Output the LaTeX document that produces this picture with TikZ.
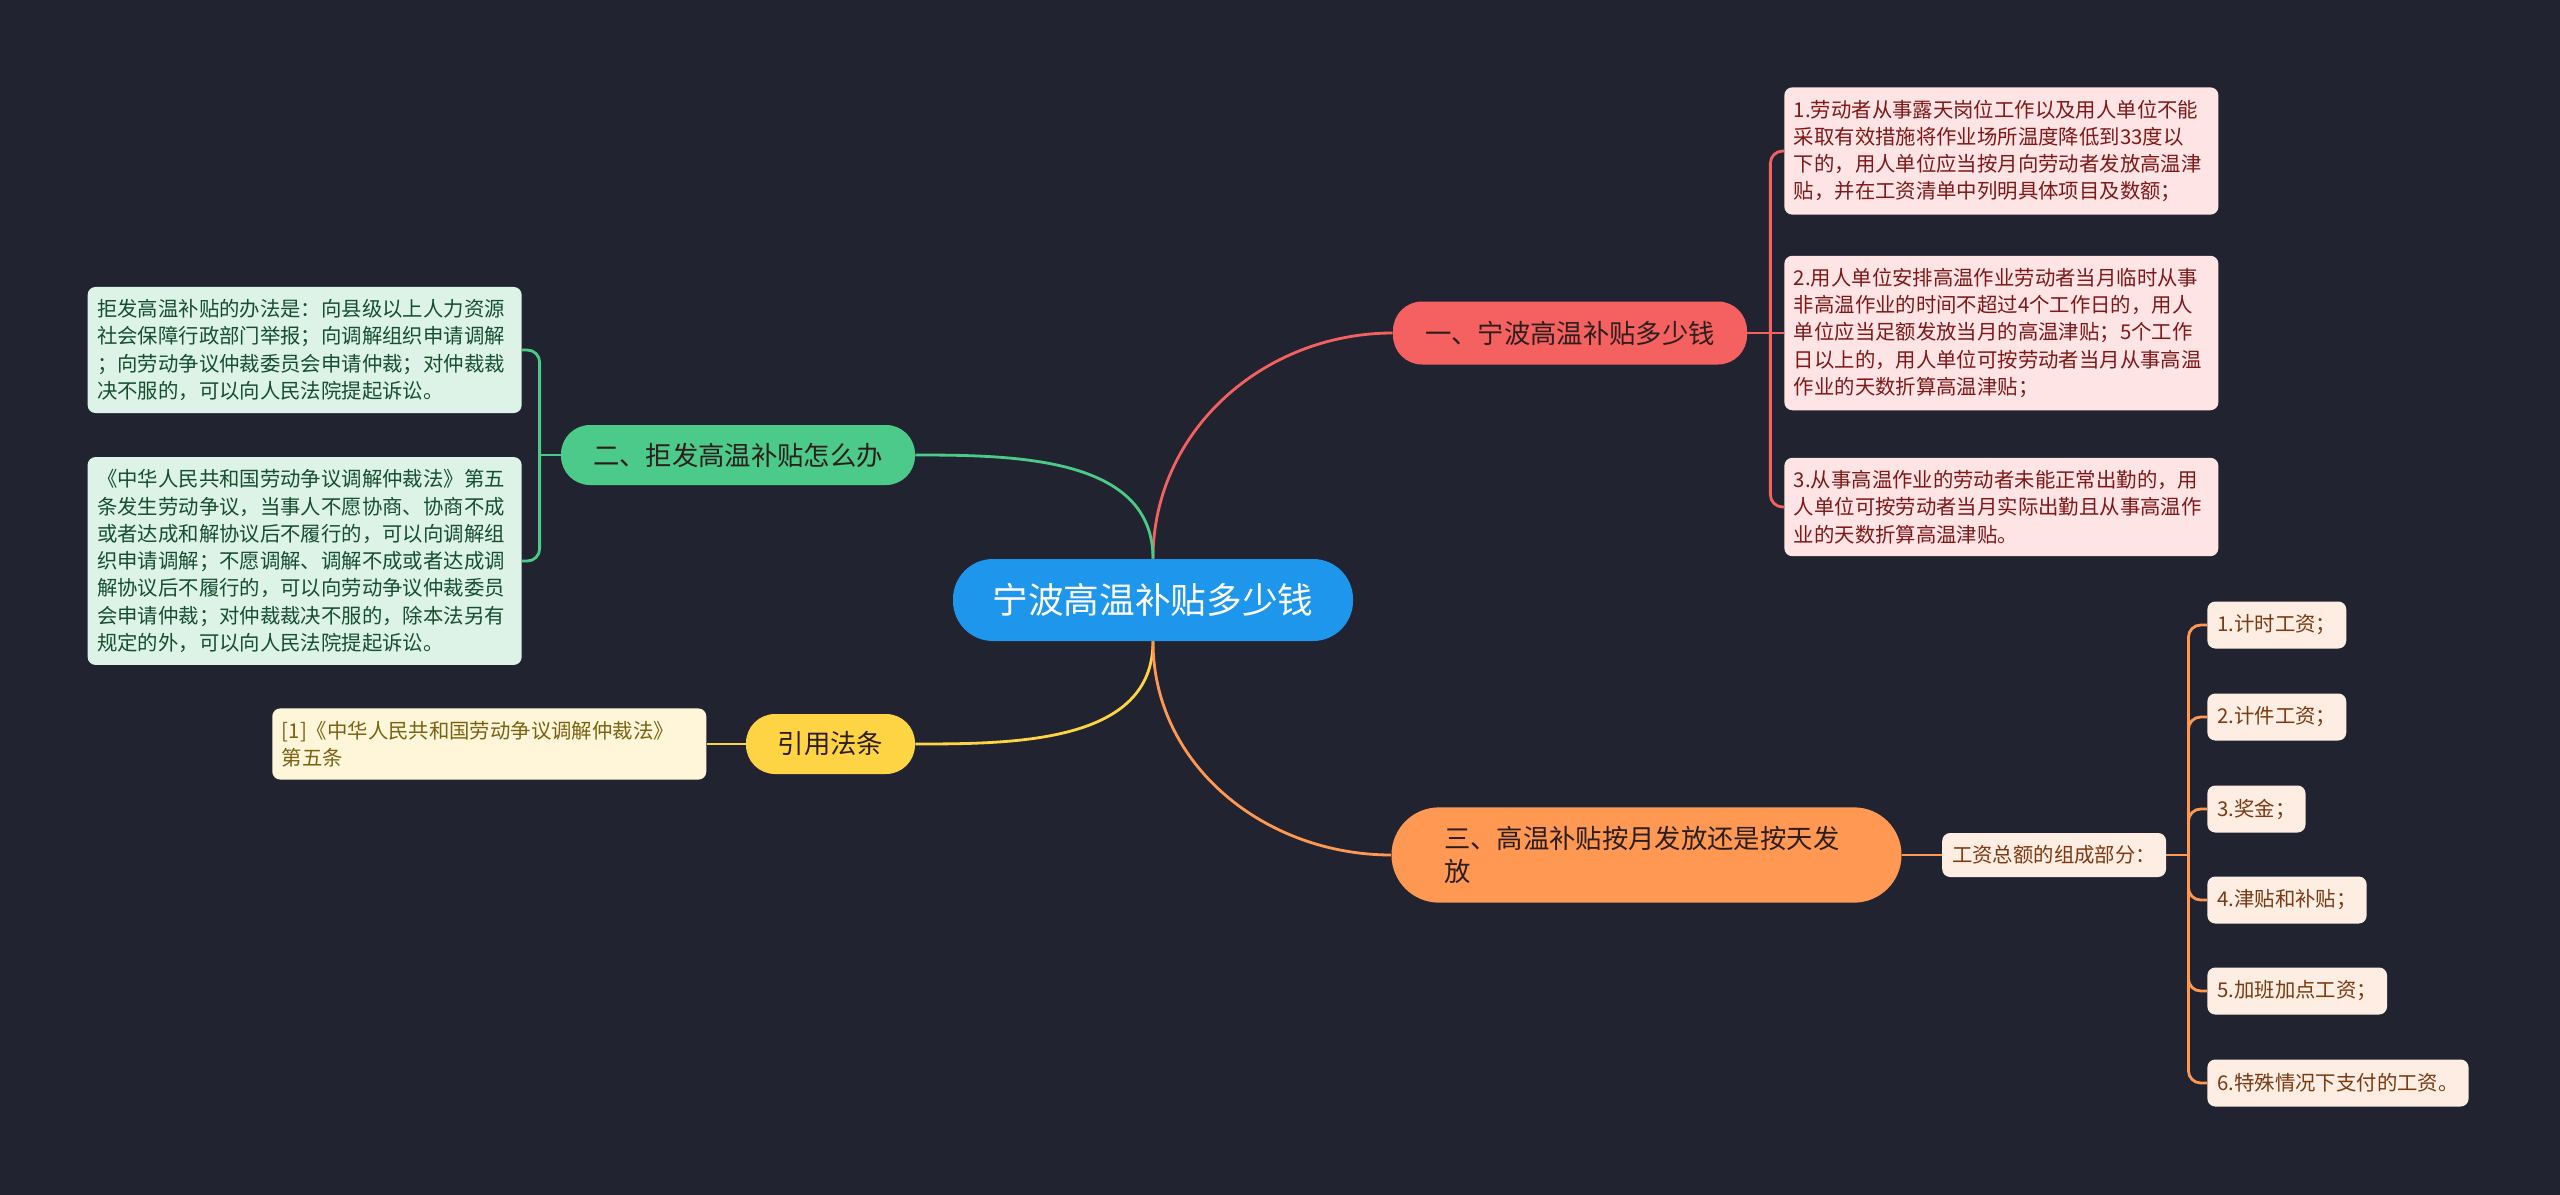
\documentclass[tikz,border=0pt]{standalone}
\usepackage{fontspec}
\setmainfont{Noto Sans CJK SC}
\usepackage{xcolor}
\definecolor{bgnavy}{RGB}{33,36,48}
\definecolor{rootblue}{RGB}{30,150,235}
\definecolor{redmain}{RGB}{245,96,96}
\definecolor{redleaf}{RGB}{254,228,228}
\definecolor{redink}{RGB}{125,25,25}
\definecolor{greenmain}{RGB}{76,202,138}
\definecolor{greenleaf}{RGB}{221,243,232}
\definecolor{greenink}{RGB}{22,78,48}
\definecolor{yellowmain}{RGB}{255,212,68}
\definecolor{yellowleaf}{RGB}{255,246,218}
\definecolor{yellowink}{RGB}{122,98,18}
\definecolor{orangemain}{RGB}{255,152,82}
\definecolor{orangeleaf}{RGB}{254,237,226}
\definecolor{orangeink}{RGB}{122,58,18}
\definecolor{branchink}{RGB}{45,30,30}
\usepackage{tikz}
\usetikzlibrary{positioning}
\newcommand{\leaffont}{\fontsize{11.6}{15.5}\selectfont}
\newcommand{\branchfont}{\fontsize{15}{18.7}\selectfont}
\newcommand{\rootfont}{\fontsize{20.3}{24}\selectfont}

\begin{document}
\begin{tikzpicture}[
    rootnode/.style={fill=rootblue, text=white, font=\rootfont,
      rounded corners=0.8cm, minimum width=8cm, minimum height=1.64cm},
    branchnode/.style={text=branchink, font=\branchfont, inner xsep=0pt,
      rounded corners=0.58cm, minimum height=1.2cm},
    leafnode/.style={rounded corners=4.5pt, text width=8.3cm, align=left,
      inner xsep=0.19cm, inner ysep=0.25cm, font=\leaffont},
    smallleaf/.style={rounded corners=4.5pt, inner xsep=0.2cm,
      minimum height=0.94cm, font=\leaffont, fill=orangeleaf,
      text=orangeink, anchor=west},
    link/.style={line width=1.6pt}]
  \fill[bgnavy] (0,0) rectangle (51.2,-23.9);

  % centre and main branches
  \node[rootnode] (root) at (23.06,-12.0) {宁波高温补贴多少钱};
  \node[branchnode, fill=redmain, minimum width=7.08cm, minimum height=1.26cm]
    (one) at (31.4,-6.66) {一、宁波高温补贴多少钱};
  \node[branchnode, fill=greenmain, minimum width=7.08cm]
    (two) at (14.76,-9.1) {二、拒发高温补贴怎么办};
  \node[branchnode, fill=yellowmain, minimum width=3.38cm]
    (cite) at (16.61,-14.88) {引用法条};
  \node[branchnode, fill=orangemain, text width=8.1cm, align=left,
        inner xsep=1.05cm, inner ysep=0.38cm, rounded corners=0.95cm]
    (three) at (32.93,-17.1) {三、高温补贴按月发放还是按天发\\放};

  % red leaves
  \node[leafnode, fill=redleaf, text=redink, anchor=west] (r1) at (35.68,-3.02)
    {1.劳动者从事露天岗位工作以及用人单位不能\\
     采取有效措施将作业场所温度降低到33度以\\
     下的，用人单位应当按月向劳动者发放高温津\\
     贴，并在工资清单中列明具体项目及数额；};
  \node[leafnode, fill=redleaf, text=redink, anchor=west] (r2) at (35.68,-6.66)
    {2.用人单位安排高温作业劳动者当月临时从事\\
     非高温作业的时间不超过4个工作日的，用人\\
     单位应当足额发放当月的高温津贴；5个工作\\
     日以上的，用人单位可按劳动者当月从事高温\\
     作业的天数折算高温津贴；};
  \node[leafnode, fill=redleaf, text=redink, anchor=west] (r3) at (35.68,-10.14)
    {3.从事高温作业的劳动者未能正常出勤的，用\\
     人单位可按劳动者当月实际出勤且从事高温作\\
     业的天数折算高温津贴。};

  % green leaves
  \node[leafnode, fill=greenleaf, text=greenink, anchor=east] (g1) at (10.44,-7.0)
    {拒发高温补贴的办法是：向县级以上人力资源\\
     社会保障行政部门举报；向调解组织申请调解\\
     ；向劳动争议仲裁委员会申请仲裁；对仲裁裁\\
     决不服的，可以向人民法院提起诉讼。};
  \node[leafnode, fill=greenleaf, text=greenink, anchor=east] (g2) at (10.44,-11.22)
    {《中华人民共和国劳动争议调解仲裁法》第五\\
     条发生劳动争议，当事人不愿协商、协商不成\\
     或者达成和解协议后不履行的，可以向调解组\\
     织申请调解；不愿调解、调解不成或者达成调\\
     解协议后不履行的，可以向劳动争议仲裁委员\\
     会申请仲裁；对仲裁裁决不服的，除本法另有\\
     规定的外，可以向人民法院提起诉讼。};

  % yellow leaf
  \node[leafnode, fill=yellowleaf, text=yellowink, left=0.78cm of cite] (y1)
    {[1]《中华人民共和国劳动争议调解仲裁法》\\
     第五条};

  % orange leaves
  \node[smallleaf, minimum height=0.88cm, right=0.8cm of three] (wage)
    {工资总额的组成部分：};
  \node[smallleaf] (o1) at (44.14,-12.5) {1.计时工资；};
  \node[smallleaf] (o2) at (44.14,-14.34) {2.计件工资；};
  \node[smallleaf] (o3) at (44.14,-16.18) {3.奖金；};
  \node[smallleaf] (o4) at (44.14,-18.0) {4.津贴和补贴；};
  \node[smallleaf] (o5) at (44.14,-19.82) {5.加班加点工资；};
  \node[smallleaf] (o6) at (44.14,-21.66) {6.特殊情况下支付的工资。};

  % links from the centre
  \draw[link, redmain] (root.north) to[out=90, in=180] (one.west);
  \draw[link, greenmain] (root.north) to[out=90, in=0] (two.east);
  \draw[link, yellowmain] (root.south) to[out=-90, in=0] (cite.east);
  \draw[link, orangemain] (root.south) to[out=-90, in=180] (three.west);

  % brackets
  \coordinate (rj) at ([xshift=0.46cm]one.east);
  \draw[link, redmain] (one.east) -- (rj) -- (r2.west);
  \foreach \n in {r1,r3}
    \draw[link, redmain, rounded corners=7pt] (rj) |- (\n.west);

  \coordinate (gj) at ([xshift=-0.42cm]two.west);
  \draw[link, greenmain] (two.west) -- (gj);
  \foreach \n in {g1,g2}
    \draw[link, greenmain, rounded corners=7pt] (gj) |- (\n.east);

  \draw[link, yellowmain] (cite.west) -- (y1.east);

  \draw[link, orangemain] (three.east) -- (wage.west);
  \coordinate (oj) at ([xshift=0.44cm]wage.east);
  \draw[link, orangemain] (wage.east) -- (oj);
  \foreach \n in {o1,o2,o3,o4,o5,o6}
    \draw[link, orangemain, rounded corners=7pt] (oj) |- (\n.west);
\end{tikzpicture}
\end{document}
